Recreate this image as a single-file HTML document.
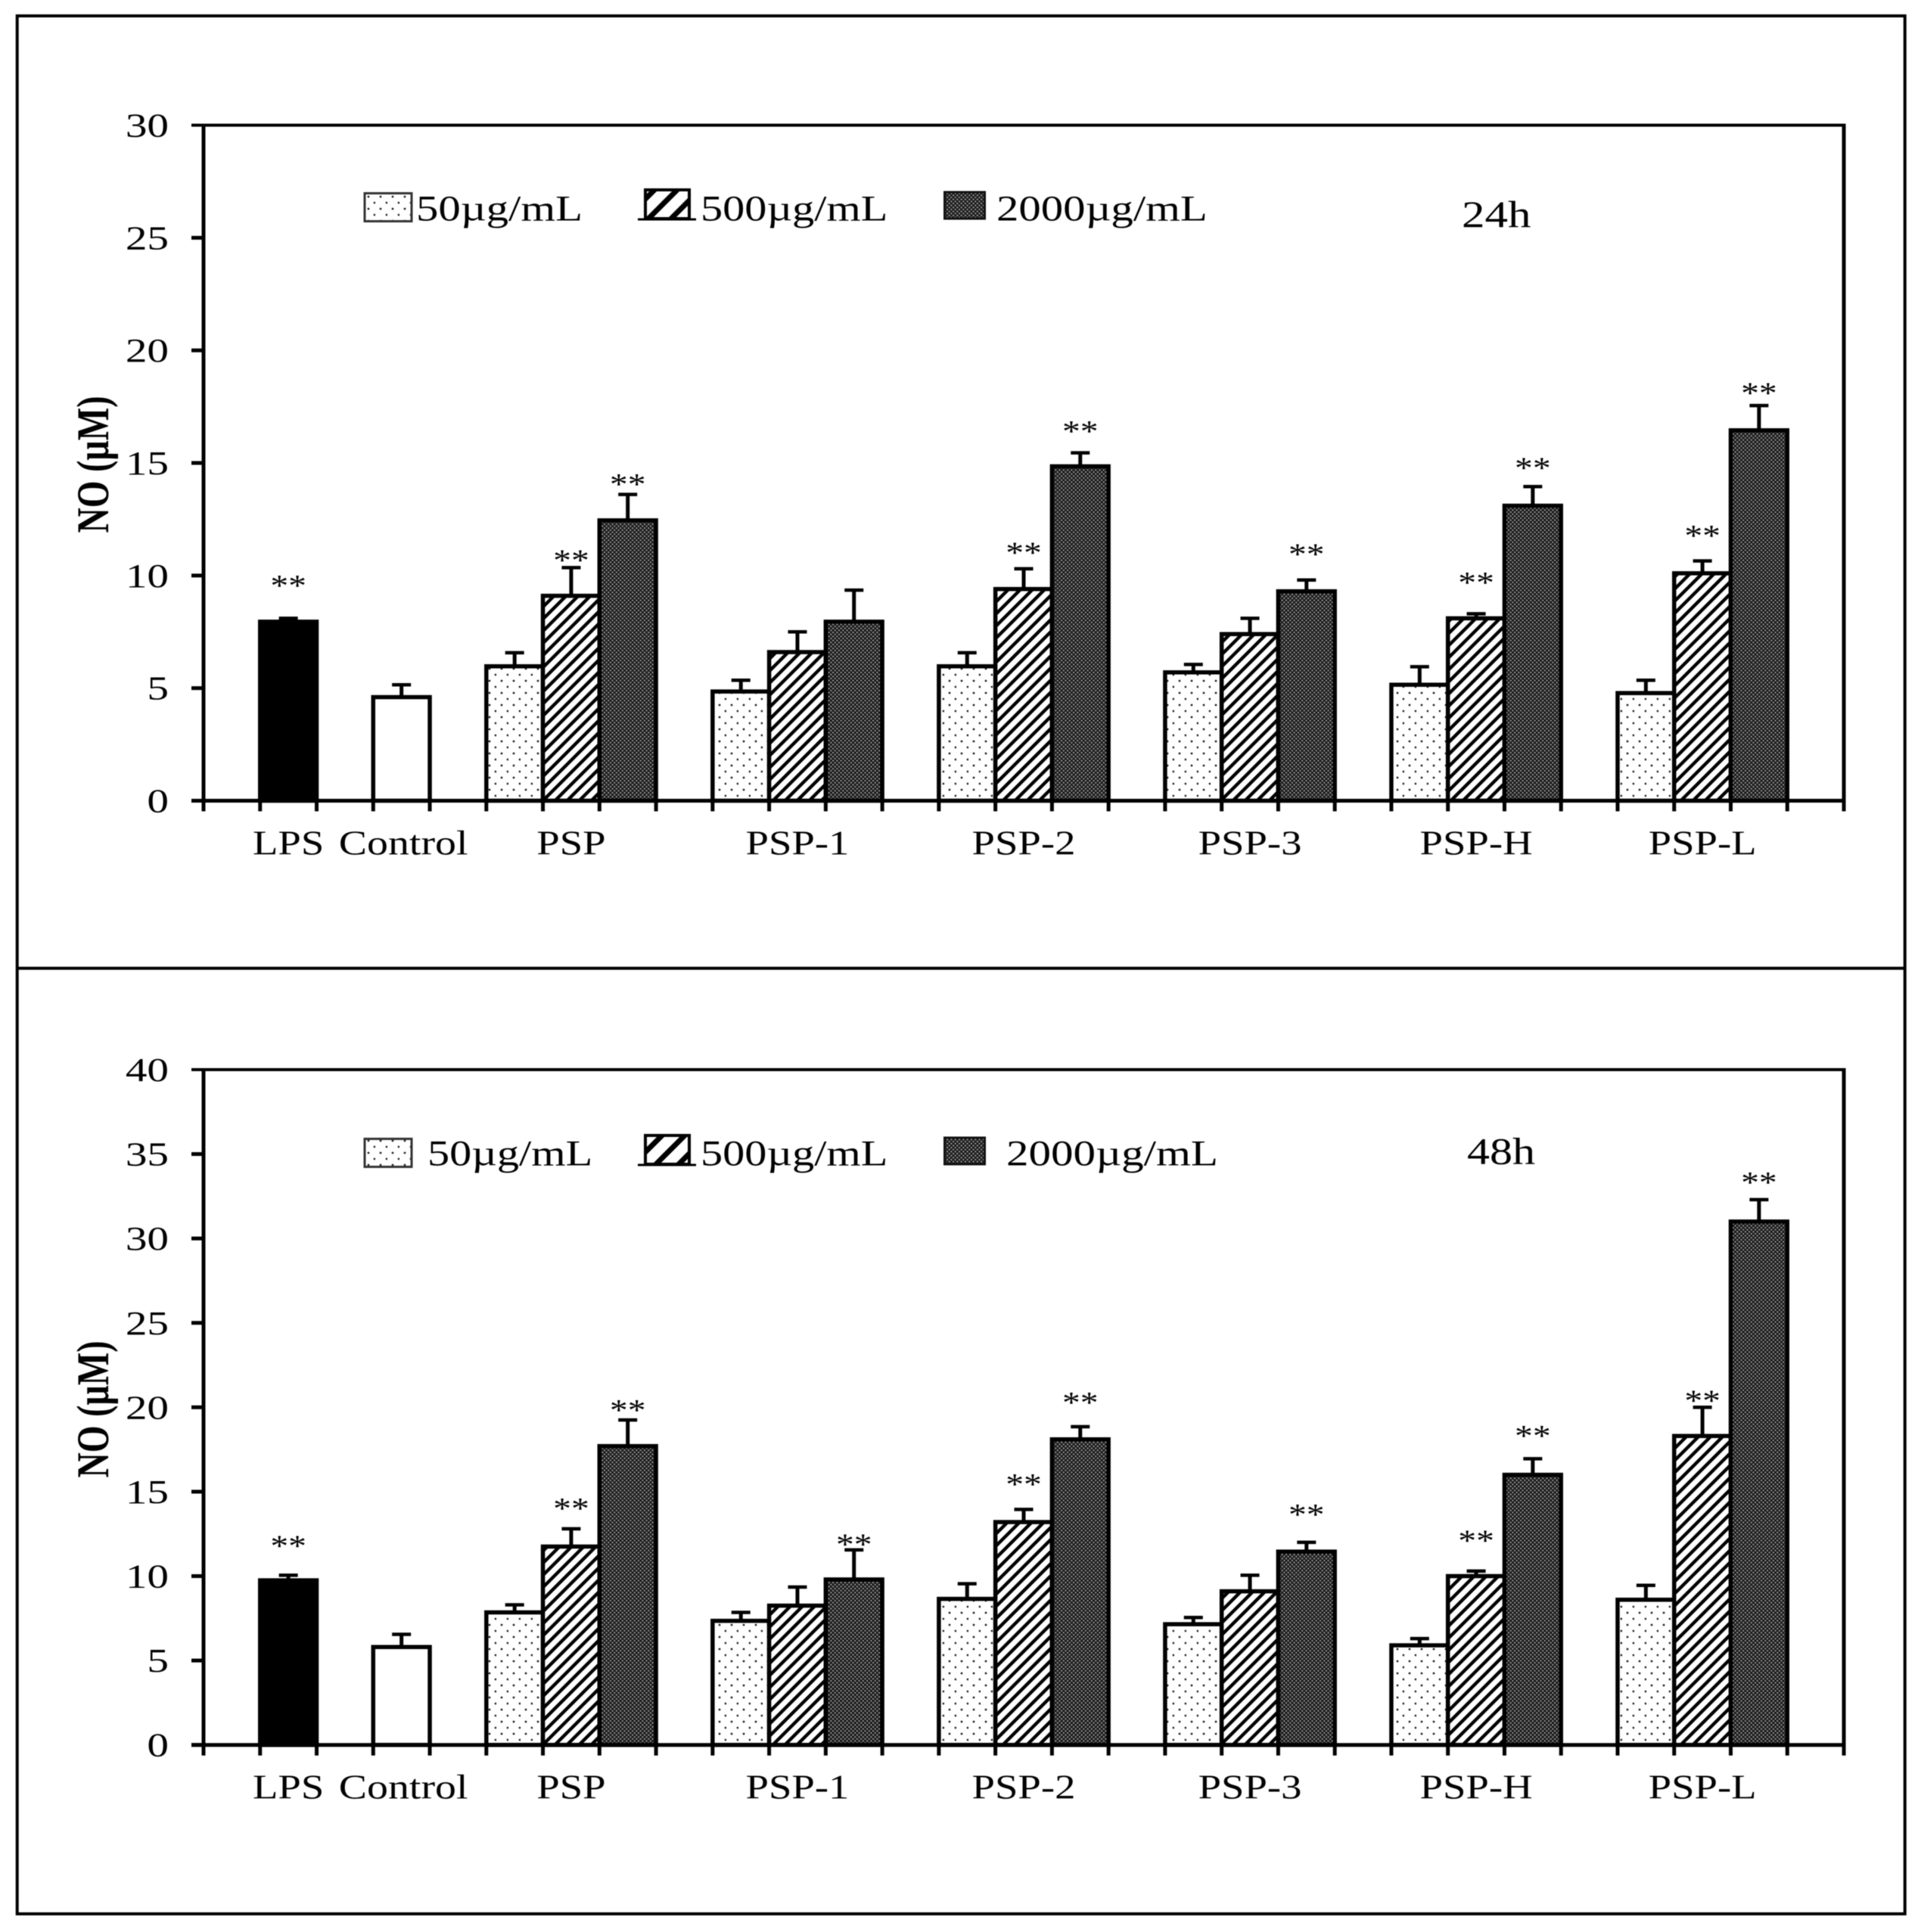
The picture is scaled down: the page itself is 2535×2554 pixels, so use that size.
<!DOCTYPE html>
<html lang="en">
<head>
<meta charset="utf-8">
<title>NO production at 24h and 48h</title>
<style>
  html, body { margin: 0; padding: 0; background: #fff; }
  body { width: 2535px; height: 2554px; overflow: hidden; }
  svg { display: block; filter: blur(0.55px); }
  text { font-family: "Liberation Serif", serif; fill: #000; }
</style>
</head>
<body>
<svg id="figure" xmlns="http://www.w3.org/2000/svg" width="2535" height="2554" viewBox="0 0 2535 2554">
  <defs>
    <pattern id="dots" patternUnits="userSpaceOnUse" width="16" height="16">
      <rect width="16" height="16" fill="#fff"/>
      <circle cx="15" cy="12" r="1.4" fill="#222"/>
      <circle cx="7" cy="4" r="1.4" fill="#222"/>
    </pattern>
    <pattern id="hatch" patternUnits="userSpaceOnUse" width="16" height="16">
      <rect width="16" height="16" fill="#fff"/>
      <path d="M-4,4 L4,-4 M-2,18 L18,-2 M12,20 L20,12" stroke="#000" stroke-width="4.4" fill="none"/>
    </pattern>
    <pattern id="hatch-large" patternUnits="userSpaceOnUse" width="30" height="30" x="4" y="2">
      <rect width="30" height="30" fill="#fff"/>
      <path d="M-6,6 L6,-6 M-4,34 L34,-4 M24,36 L36,24" stroke="#000" stroke-width="7" fill="none"/>
    </pattern>
    <pattern id="dense" patternUnits="userSpaceOnUse" width="5.3" height="5.3">
      <rect width="5.3" height="5.3" fill="#1c1c1c"/>
      <circle cx="1.3" cy="1.3" r="1" fill="#b4b4b4"/>
      <circle cx="3.95" cy="3.95" r="1" fill="#b4b4b4"/>
    </pattern>
  </defs>

  <rect width="2535" height="2554" fill="#fff"/>
  <rect x="22.7" y="21" width="2495" height="2509" fill="none" stroke="#000" stroke-width="4"/>
  <line x1="22.7" y1="1280" x2="2517.7" y2="1280" stroke="#000" stroke-width="4"/>

  <g>
    <g>
      <rect x="482" y="255.5" width="62" height="37" fill="url(#dots)" stroke="#333" stroke-width="3"/>
      <text transform="translate(550,291.7) scale(1.225,1)" font-size="48">50µg/mL</text>
    </g>
    <g>
      <rect x="853" y="251" width="58" height="38" fill="url(#hatch-large)" stroke="#000" stroke-width="4"/>
      <line x1="843" y1="290" x2="920" y2="290" stroke="#000" stroke-width="3"/>
      <text transform="translate(926,291.7) scale(1.215,1)" font-size="48">500µg/mL</text>
    </g>
    <g>
      <rect x="1248.5" y="254" width="53" height="35" fill="url(#dense)" stroke="#111" stroke-width="3"/>
      <text transform="translate(1317,291.7) scale(1.225,1)" font-size="48">2000µg/mL</text>
    </g>
    <text transform="translate(1932,300) scale(1.22,1)" font-size="50">24h</text>
  </g>

  <g>
    <g>
      <rect x="482" y="1505.5" width="62" height="37" fill="url(#dots)" stroke="#333" stroke-width="3"/>
      <text transform="translate(565,1540.7) scale(1.215,1)" font-size="48">50µg/mL</text>
    </g>
    <g>
      <rect x="853" y="1501" width="58" height="38" fill="url(#hatch-large)" stroke="#000" stroke-width="4"/>
      <line x1="843" y1="1540" x2="920" y2="1540" stroke="#000" stroke-width="3"/>
      <text transform="translate(926,1540.7) scale(1.215,1)" font-size="48">500µg/mL</text>
    </g>
    <g>
      <rect x="1248.5" y="1504" width="53" height="35" fill="url(#dense)" stroke="#111" stroke-width="3"/>
      <text transform="translate(1330,1540.7) scale(1.23,1)" font-size="48">2000µg/mL</text>
    </g>
    <text transform="translate(1939,1538.5) scale(1.2,1)" font-size="50">48h</text>
  </g>
</svg>

<script>
// ---- Shared categories and axis labels ----
const controlCategories = ['LPS', 'Control'];
const treatedCategories = ['PSP', 'PSP-1', 'PSP-2', 'PSP-3', 'PSP-H', 'PSP-L'];
const doses = ['50', '500', '2000'];
const yTicks24 = [0, 5, 10, 15, 20, 25, 30];
const yTicks48 = [0, 5, 10, 15, 20, 25, 30, 35, 40];
const yAxisTitle = 'NO (µM)';

// ---- 24 h values (µM) ----
const controls24 = [7.95, 4.6];
const controlsErr24 = [0.15, 0.55];
const controlsStars24 = [9.75, null];
const low24 = [5.97, 4.85, 5.97, 5.7, 5.15, 4.78];
const lowErr24 = [0.6, 0.5, 0.6, 0.35, 0.8, 0.57];
const mid24 = [9.1, 6.6, 9.4, 7.4, 8.1, 10.1];
const midErr24 = [1.25, 0.9, 0.9, 0.7, 0.2, 0.55];
const midStars24 = [10.87, null, 11.2, null, 9.88, 11.96];
const high24 = [12.45, 7.95, 14.85, 9.3, 13.1, 16.45];
const highErr24 = [1.15, 1.4, 0.6, 0.5, 0.85, 1.1];
const highStars24 = [14.25, null, 16.6, 11.14, 14.96, 18.3];

// ---- 48 h values (µM) ----
const controls48 = [9.75, 5.8];
const controlsErr48 = [0.3, 0.75];
const controlsStars48 = [12.05, null];
const low48 = [7.85, 7.35, 8.65, 7.15, 5.9, 8.6];
const lowErr48 = [0.45, 0.5, 0.9, 0.4, 0.4, 0.85];
const mid48 = [11.75, 8.25, 13.2, 9.1, 10, 18.3];
const midErr48 = [1.05, 1.1, 0.75, 0.95, 0.3, 1.7];
const midStars48 = [14.25, null, 15.7, null, 12.35, 20.65];
const high48 = [17.7, 9.8, 18.1, 11.45, 16, 31];
const highErr48 = [1.55, 1.75, 0.75, 0.55, 0.95, 1.3];
const highStars48 = [20.08, 12.14, 20.52, 13.9, 18.55, 33.58];

const SVG_NS = 'http://www.w3.org/2000/svg';
const figure = document.getElementById('figure');
const X0 = 269, X1 = 2437, SLOTS = 29, STRETCH = 1.19, TICK_STRETCH = 1.3, TITLE_STRETCH = 1.32;

function xSlot(k) { return X0 + (X1 - X0) * k / SLOTS; }

function make(tag, attrs, parent) {
  const node = document.createElementNS(SVG_NS, tag);
  for (const key in attrs) node.setAttribute(key, attrs[key]);
  parent.appendChild(node);
  return node;
}

function makeText(str, x, y, size, anchor, parent, stretch) {
  const node = make('text', {
    transform: 'translate(' + x + ',' + y + ') scale(' + stretch + ',1)',
    'font-size': size,
    'text-anchor': anchor
  }, parent);
  node.textContent = str;
  return node;
}

function drawBar(k, width, value, err, star, fill, yScale, parent, label) {
  const xL = xSlot(k), xR = xSlot(k + width), xC = (xL + xR) / 2;
  const yV = yScale(value), yCap = yScale(value + err);

  const stem = make('line', { x1: xC, x2: xC, y1: yV, y2: yCap, stroke: '#000', 'stroke-width': 5 }, parent);
  
  

  const cap = make('line', { x1: xC - 12.5, x2: xC + 12.5, y1: yCap, y2: yCap, stroke: '#000', 'stroke-width': 4.5 }, parent);
  
  

  const bar = make('rect', {
    x: xL, y: yV, width: xR - xL, height: yScale(0) - yV,
    fill: fill, stroke: '#000', 'stroke-width': 5.5
  }, parent);
  
  

  if (star !== null) {
    const mark = makeText('**', xC, yScale(star) + 19, 40, 'middle', parent, STRETCH);
    
    
  }
}

function drawPanel(name, top, base, yMax, ticks, titleY, controls, controlsErr, controlsStars, series, errors, stars) {
  const g = make('g', {}, figure);
  
  

  const yScale = function (v) { return base - (base - top) * v / yMax; };

  const title = make('text', {
    transform: 'translate(143,' + titleY + ') scale(' + TITLE_STRETCH + ',1) rotate(-90)',
    'font-size': 46, 'font-weight': 'bold', 'text-anchor': 'middle'
  }, g);
  title.textContent = yAxisTitle;
  
  

  ticks.forEach(function (t) {
    const y = yScale(t);
    const tick = make('line', { x1: 253, x2: X0, y1: y, y2: y, stroke: '#000', 'stroke-width': t === yMax ? 4 : 5 }, g);
    
    
    const label = makeText(String(t), 223, y + 15, 44, 'end', g, TICK_STRETCH);
    
    
  });

  // control bars occupy slots 1 and 3
  controlCategories.forEach(function (cat, i) {
    const k = 1 + i * 2;
    const fill = i === 0 ? '#000' : '#fff';
    drawBar(k, 1, controls[i], controlsErr[i], controlsStars[i], fill, yScale, g, cat.toLowerCase());
    const label = makeText(cat, xSlot(k + 0.5) + (i === 0 ? 0 : 2.5), base + 71, 46, 'middle', g, i === 0 ? STRETCH : 1.215);
    
    
  });

  // treated groups: three bars each, one-slot gap between groups
  const fills = ['url(#dots)', 'url(#hatch)', 'url(#dense)'];
  treatedCategories.forEach(function (cat, i) {
    const start = 5 + i * 4;
    doses.forEach(function (dose, d) {
      drawBar(start + d, 1, series[d][i], errors[d][i], stars[d][i], fills[d], yScale, g, cat.toLowerCase() + '-' + dose);
    });
    const label = makeText(cat, xSlot(start + 1.5), base + 71, 46, 'middle', g, STRETCH);
    
    
  });

  const topLine = make('line', { x1: X0, x2: X1, y1: top, y2: top, stroke: '#000', 'stroke-width': 4 }, g);
  
  

  const rightLine = make('line', { x1: X1, x2: X1, y1: top - 2, y2: base, stroke: '#000', 'stroke-width': 5 }, g);
  
  

  const yAxis = make('line', { x1: X0, x2: X0, y1: top - 2, y2: base, stroke: '#000', 'stroke-width': 5 }, g);
  
  

  const xAxis = make('line', { x1: 253, x2: X1 + 2.5, y1: base, y2: base, stroke: '#000', 'stroke-width': 5 }, g);
  
  

  for (let k = 0; k <= SLOTS; k++) {
    const tick = make('line', { x1: xSlot(k), x2: xSlot(k), y1: base, y2: base + 14, stroke: '#000', 'stroke-width': 5 }, g);
    
    
  }
}

drawPanel('24h', 165.5, 1058.5, 30, yTicks24, 614,
  controls24, controlsErr24, controlsStars24,
  [low24, mid24, high24],
  [lowErr24, midErr24, highErr24],
  [[null, null, null, null, null, null], midStars24, highStars24]);

drawPanel('48h', 1414, 2306.7, 40, yTicks48, 1863,
  controls48, controlsErr48, controlsStars48,
  [low48, mid48, high48],
  [lowErr48, midErr48, highErr48],
  [[null, null, null, null, null, null], midStars48, highStars48]);
</script>
</body>
</html>
